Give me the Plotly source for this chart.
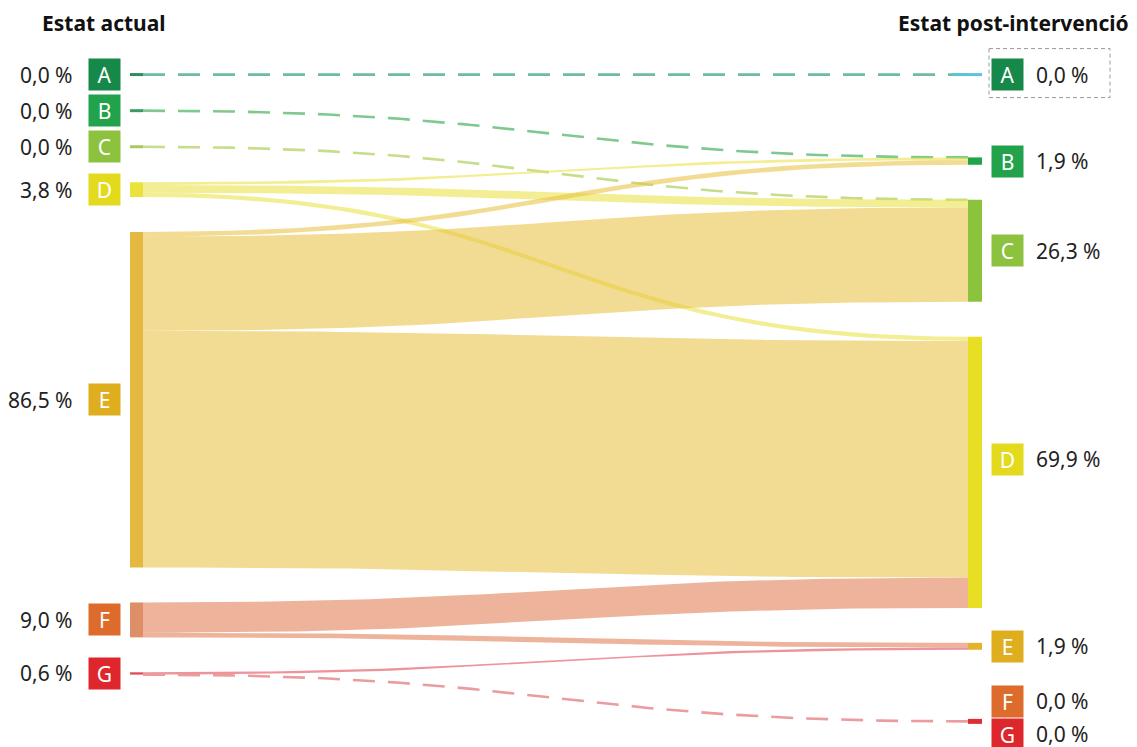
import numpy as np
import plotly.graph_objects as go

# ---------------- data ----------------
grades = ["A", "B", "C", "D", "E", "F", "G"]
grade_colors = ["#16884a", "#22a24b", "#8dc23f", "#e3da1e", "#dfae1f", "#dd6c2c", "#de262d"]
current_pct = [0.0, 0.0, 0.0, 3.8, 86.5, 9.0, 0.6]
post_pct = [0.0, 1.9, 26.3, 69.9, 1.9, 0.0, 0.0]
link_source = ["A", "B", "C", "D", "D", "D", "E", "E", "E", "F", "F", "G", "G"]
link_target = ["A", "B", "C", "B", "C", "D", "B", "C", "D", "D", "E", "E", "G"]
link_value = [0.0, 0.0, 0.0, 0.7, 2.0, 1.1, 1.2, 24.3, 61.0, 7.8, 1.2, 0.6, 0.0]
title_left = "Estat actual"
title_right = "Estat post-intervenció"

# ---------------- layout / style constants ----------------
WIN_W, WIN_H = 1137, 747
BODY = 8              # default page margin around the plot div
W, H = WIN_W - BODY, WIN_H - BODY
SCALE = 3.88          # px per percent
Y0PX = 74             # window pixel of the top node
GAP = 9.0             # gap between nodes (percent units)
MINH = 0.3            # visual height for empty nodes
EXTENT = 167.0        # bottom of the right column (percent units)
XL0, XL1 = 130, 143   # left node bar (window px)
XR0, XR1 = 968, 982   # right node bar (window px)
FONT = "Noto Sans"

left_node_col = ["#2f8a5c", "#3d9a60", "#a8c85c", "#ebe23e", "#e5b941", "#df8f68", "#df4d58"]
right_node_col = ["#5cc3dc", "#1fa34b", "#8cc33c", "#e8df25", "#e2b42e", "#dd6c2c", "#dc2f35"]
link_fill = {"D": "rgba(234,224,60,0.55)", "E": "rgba(232,192,62,0.56)",
             "F": "rgba(222,118,72,0.55)", "G": "rgba(222,60,72,0.55)"}
zero_line_col = {"A": "#6dbd9c", "B": "#7fc98f", "C": "#c6dd8c", "G": "#eb9c9e"}
right_label_offset_px = [0, 0, 0, -13, 0, 16, 13]


def y_of_px(p):
    return (p - Y0PX) / SCALE


idx = {g: i for i, g in enumerate(grades)}
n = len(grades)
out_sum = [0.0] * n
in_sum = [0.0] * n
for s, t, v in zip(link_source, link_target, link_value):
    out_sum[idx[s]] += v
    in_sum[idx[t]] += v

# left column: stacked from top
left_start, left_h = [], []
y = 0.0
for i in range(n):
    h = max(out_sum[i], MINH)
    left_start.append(y)
    left_h.append(h)
    y += h + GAP

# right column: stacked from bottom, first node pinned at top
right_start, right_h = [0.0] * n, [0.0] * n
y = EXTENT
for i in reversed(range(n)):
    h = max(in_sum[i], MINH)
    right_start[i] = y - h
    right_h[i] = h
    y = y - h - GAP
right_start[0] = 0.0

# link offsets
src_off = [0.0] * n
src_pos = {}
for k in sorted(range(len(link_value)), key=lambda k: (idx[link_source[k]], idx[link_target[k]])):
    i = idx[link_source[k]]
    src_pos[k] = left_start[i] + src_off[i]
    src_off[i] += link_value[k]
tgt_off = [0.0] * n
tgt_pos = {}
for k in sorted(range(len(link_value)), key=lambda k: (idx[link_target[k]], idx[link_source[k]])):
    j = idx[link_target[k]]
    tgt_pos[k] = right_start[j] + tgt_off[j]
    tgt_off[j] += link_value[k]

t = np.linspace(0, 1, 80)
xm = (XL1 + XR0) / 2
bx = (1 - t) ** 3 * XL1 + 3 * (1 - t) ** 2 * t * xm + 3 * (1 - t) * t ** 2 * xm + t ** 3 * XR0


def by(y0, y1):
    return (1 - t) ** 3 * y0 + 3 * (1 - t) ** 2 * t * y0 + 3 * (1 - t) * t ** 2 * y1 + t ** 3 * y1


fig = go.Figure()
shapes = []
annotations = []

# links
for k in range(len(link_value)):
    s, tg, v = link_source[k], link_target[k], link_value[k]
    if v > 0:
        top = by(src_pos[k], tgt_pos[k])
        bot = by(src_pos[k] + v, tgt_pos[k] + v)
        fig.add_trace(go.Scatter(
            x=np.concatenate([bx, bx[::-1]]), y=np.concatenate([top, bot[::-1]]),
            fill="toself", fillcolor=link_fill[s], line=dict(width=0), mode="lines",
            hoverinfo="skip", showlegend=False))
    else:
        i, j = idx[s], idx[tg]
        ys = left_start[i] + (left_h[i] / 2 if out_sum[i] == 0 else out_sum[i])
        yt = right_start[j] + (right_h[j] / 2 if in_sum[j] == 0 else 0)
        fig.add_trace(go.Scatter(
            x=bx, y=by(ys, yt), mode="lines",
            line=dict(color=zero_line_col[s], width=2.6, dash="22px,13px"),
            hoverinfo="skip", showlegend=False))

# nodes
for i in range(n):
    if out_sum[i] > 0:
        shapes.append(dict(type="rect", xref="x", yref="y", x0=XL0, x1=XL1,
                           y0=left_start[i], y1=left_start[i] + left_h[i],
                           fillcolor=left_node_col[i], line=dict(width=0), layer="above"))
    elif i < 3:
        yc = left_start[i] + left_h[i] / 2
        shapes.append(dict(type="line", xref="x", yref="y", x0=XL0, x1=XL1, y0=yc, y1=yc,
                           line=dict(color=left_node_col[i], width=3)))
    if in_sum[i] > 0:
        shapes.append(dict(type="rect", xref="x", yref="y", x0=XR0, x1=XR1,
                           y0=right_start[i], y1=right_start[i] + right_h[i],
                           fillcolor=right_node_col[i], line=dict(width=0), layer="above"))
    elif i in (0, 6):
        yc = right_start[i] + right_h[i] / 2
        x0 = XR0 - 15 if i == 0 else XR0
        shapes.append(dict(type="line", xref="x", yref="y", x0=x0, x1=XR1, y0=yc, y1=yc,
                           line=dict(color=right_node_col[i], width=3 if i == 0 else 5)))


def fmt(v):
    return f"{v:.1f}".replace(".", ",") + " %"


# labels
for i in range(n):
    yl = left_start[i] + left_h[i] / 2
    annotations.append(dict(x=104.5, y=yl, xref="x", yref="y", text=grades[i], showarrow=False,
                            bgcolor=grade_colors[i], width=31, height=31, borderpad=0,
                            font=dict(family=FONT, size=21, color="white"), xanchor="center", yanchor="middle"))
    annotations.append(dict(x=75, y=yl, xref="x", yref="y", text=fmt(current_pct[i]), showarrow=False,
                            font=dict(family=FONT, size=21, color="#222222"), xanchor="right", yanchor="middle"))
    yr = right_start[i] + right_h[i] / 2 + right_label_offset_px[i] / SCALE
    annotations.append(dict(x=1007.5, y=yr, xref="x", yref="y", text=grades[i], showarrow=False,
                            bgcolor=grade_colors[i], width=31, height=31, borderpad=0,
                            font=dict(family=FONT, size=21, color="white"), xanchor="center", yanchor="middle"))
    annotations.append(dict(x=1034, y=yr, xref="x", yref="y", text=fmt(post_pct[i]), showarrow=False,
                            font=dict(family=FONT, size=21, color="#222222"), xanchor="left", yanchor="middle"))

# highlight box around right A label
ya = right_start[0] + right_h[0] / 2
shapes.append(dict(type="rect", xref="x", yref="y", x0=989, x1=1110,
                   y0=ya - 26 / SCALE, y1=ya + 23 / SCALE,
                   line=dict(color="#9a9a9a", width=1, dash="4px,3px"), fillcolor="rgba(0,0,0,0)"))

annotations.append(dict(x=40, y=y_of_px(23), xref="x", yref="y", text=f"<b>{title_left}</b>",
                        showarrow=False, xanchor="left", yanchor="middle",
                        font=dict(family=FONT, size=21, color="#111111")))
annotations.append(dict(x=1131, y=y_of_px(23), xref="x", yref="y", text=f"<b>{title_right}</b>",
                        showarrow=False, xanchor="right", yanchor="middle",
                        font=dict(family=FONT, size=21, color="#111111")))

fig.update_layout(
    width=W, height=H, autosize=False,
    margin=dict(l=0, r=0, t=0, b=0),
    paper_bgcolor="white", plot_bgcolor="white",
    xaxis=dict(range=[BODY, WIN_W], visible=False, fixedrange=True),
    yaxis=dict(range=[y_of_px(WIN_H), y_of_px(BODY)], visible=False, fixedrange=True),
    shapes=shapes, annotations=annotations, showlegend=False,
)

fig.write_html("out.html")
